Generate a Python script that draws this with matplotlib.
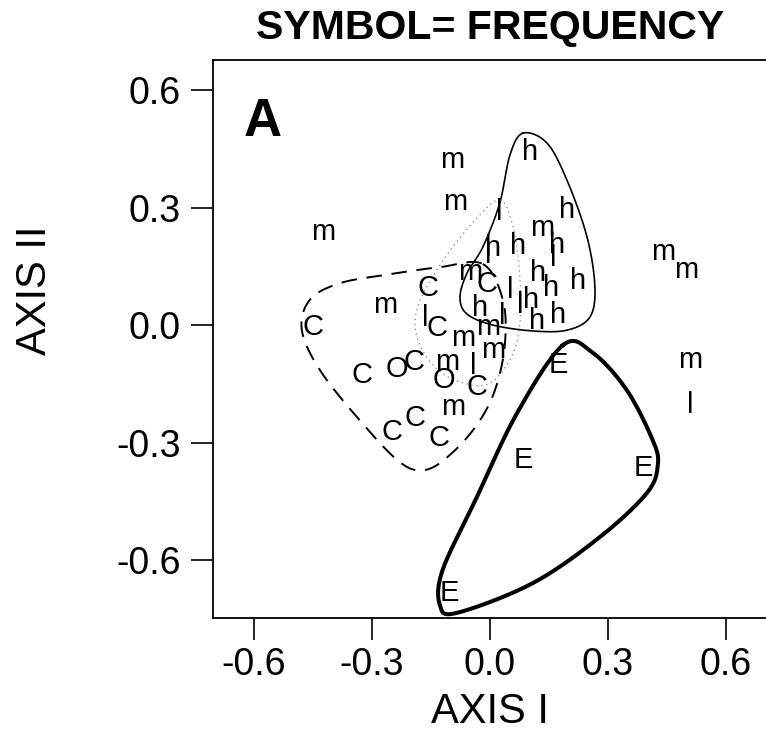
import numpy as np
import matplotlib
matplotlib.use("Agg")
import matplotlib.pyplot as plt

# symbol positions (axis I, axis II)
m_x = [-0.425, -0.097, -0.089, 0.440, 0.498, 0.509, -0.267, 0.132, -0.051, -0.005, -0.069, 0.008, -0.109, -0.094]
m_y = [0.237, 0.421, 0.314, 0.186, 0.140, -0.089, 0.051, 0.248, 0.135, -0.005, -0.033, -0.064, -0.094, -0.209]

l_x = [0.509, 0.025, 0.160, -0.003, 0.051, 0.076, 0.031, -0.165, -0.043]
l_y = [-0.204, 0.288, 0.171, 0.179, 0.089, 0.051, 0.023, 0.018, -0.105]

h_x = [0.102, 0.196, 0.170, 0.008, 0.071, 0.122, 0.155, 0.224, 0.104, -0.025, 0.120, 0.173]
h_y = [0.442, 0.294, 0.204, 0.197, 0.202, 0.133, 0.094, 0.112, 0.064, 0.043, 0.010, 0.026]

c_x = [-0.008, -0.158, -0.450, -0.135, -0.325, -0.193, -0.033, -0.249, -0.191, -0.130]
c_y = [0.105, 0.094, -0.005, -0.008, -0.128, -0.094, -0.158, -0.273, -0.237, -0.288]

o_x = [-0.236, -0.117]
o_y = [-0.112, -0.140]

e_x = [0.173, 0.086, 0.389, -0.102]
e_y = [-0.102, -0.345, -0.365, -0.684]

# hand drawn envelopes
env_e_x = [0.186, 0.069, -0.033, -0.120, -0.127, -0.084, 0.109, 0.280, 0.399, 0.427, 0.414, 0.348, 0.262]
env_e_y = [-0.051, -0.225, -0.439, -0.625, -0.715, -0.735, -0.659, -0.541, -0.429, -0.357, -0.294, -0.166, -0.071]

env_h_x = [0.084, 0.051, 0.025, -0.018, -0.058, -0.076, -0.058, 0.008, 0.109, 0.196, 0.254, 0.267, 0.247, 0.196, 0.145]
env_h_y = [0.490, 0.434, 0.311, 0.199, 0.133, 0.071, 0.028, 0.000, -0.015, -0.013, 0.020, 0.097, 0.225, 0.370, 0.465]

env_c_x = [-0.018, 0.033, 0.038, 0.013, -0.033, -0.102, -0.165, -0.229, -0.331, -0.432, -0.478, -0.458, -0.381, -0.254, -0.127]
env_c_y = [0.156, 0.064, -0.051, -0.166, -0.255, -0.332, -0.370, -0.350, -0.243, -0.115, -0.013, 0.064, 0.107, 0.130, 0.148]

env_l_x = [0.025, 0.058, 0.076, 0.076, 0.051, -0.013, -0.114, -0.178, -0.186, -0.127, -0.038]
env_l_y = [0.319, 0.255, 0.128, 0.000, -0.089, -0.153, -0.128, -0.051, 0.038, 0.153, 0.268]

ticks = [-0.6, -0.3, 0.0, 0.3, 0.6]


def closed_spline(xs, ys, n=30):
    # closed catmull-rom curve through the given points
    p = np.column_stack([xs, ys])
    k = len(p)
    out = []
    t = np.linspace(0, 1, n, endpoint=False)[:, None]
    for i in range(k):
        p0, p1, p2, p3 = p[i - 1], p[i], p[(i + 1) % k], p[(i + 2) % k]
        seg = 0.5 * ((2 * p1) + (-p0 + p2) * t + (2 * p0 - 5 * p1 + 4 * p2 - p3) * t ** 2
                     + (-p0 + 3 * p1 - 3 * p2 + p3) * t ** 3)
        out.append(seg)
    out.append(p[:1])
    out = np.vstack(out)
    return out[:, 0], out[:, 1]


plt.rcParams['font.family'] = ['Liberation Sans', 'DejaVu Sans']

fig = plt.figure(figsize=(7.66, 7.46), dpi=100)
ax = fig.add_axes([0.278, 0.1716, 0.722, 0.748])

for xs, ys, lab in [(m_x, m_y, 'm'), (l_x, l_y, 'l'), (h_x, h_y, 'h'),
                    (c_x, c_y, 'C'), (o_x, o_y, 'O'), (e_x, e_y, 'E')]:
    for x, y in zip(xs, ys):
        ax.text(x, y, lab, fontsize=21, ha='center', va='center', color='black')

x, y = closed_spline(env_e_x, env_e_y)
ax.plot(x, y, color='black', lw=2.9)
x, y = closed_spline(env_h_x, env_h_y)
ax.plot(x, y, color='black', lw=1.2)
x, y = closed_spline(env_c_x, env_c_y)
ax.plot(x, y, color='black', lw=1.4, linestyle=(0, (8, 5)))
x, y = closed_spline(env_l_x, env_l_y)
ax.plot(x, y, color='gray', lw=0.9, linestyle=(0, (1, 3)))

ax.set_xlim(-0.704, 0.702)
ax.set_ylim(-0.748, 0.677)
ax.set_xticks(ticks)
ax.set_yticks(ticks)
ax.set_xticklabels(['%.1f' % t for t in ticks])
ax.set_yticklabels(['%.1f' % t for t in ticks])
ax.tick_params(direction='out', length=16, width=1.2, labelsize=27, pad=5)
ax.tick_params(axis='y', pad=7)
ax.spines['right'].set_visible(False)
for s in ['left', 'top', 'bottom']:
    ax.spines[s].set_linewidth(1.3)

ax.text(0.09, 0.889, 'A', transform=ax.transAxes, fontsize=38, fontweight='bold',
        ha='center', va='center')

fig.text(490 / 766, 1 - 28 / 746, 'SYMBOL= FREQUENCY', fontsize=29.5, fontweight='bold',
         ha='center', va='center')
fig.text(490 / 766, 1 - 712 / 746, 'AXIS I', fontsize=30, ha='center', va='center')
fig.text(35 / 766, 1 - 290 / 746, 'AXIS II', fontsize=30, ha='center', va='center', rotation=90)

fig.savefig('out.png', dpi=100)
